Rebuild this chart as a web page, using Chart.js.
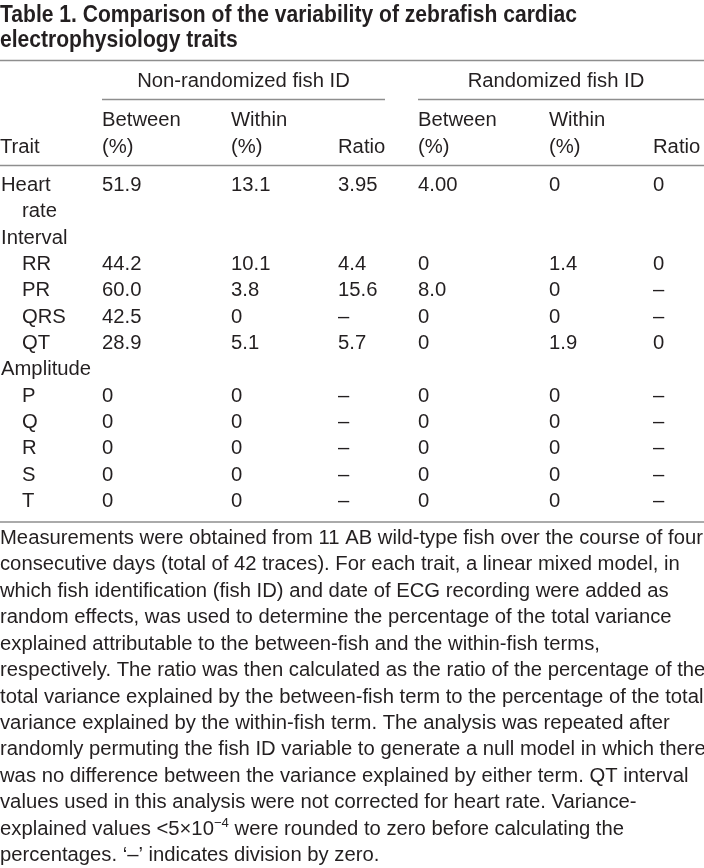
<!DOCTYPE html>
<html>
<head>
<meta charset="utf-8">
<script src="https://cdn.jsdelivr.net/npm/chart.js@4/dist/chart.umd.min.js"></script>
<style>
  html, body { margin: 0; padding: 0; background: #ffffff; }
  #wrap { width: 704px; height: 868px; }
  canvas { display: block; }
</style>
</head>
<body>
<div id="wrap"><canvas id="c" width="704" height="868"></canvas></div>
<script>
// ---------- DATA ----------
const titleLines = [
  'Table 1. Comparison of the variability of zebrafish cardiac',
  'electrophysiology traits'
];
const groupHeaders = ['Non-randomized fish ID', 'Randomized fish ID'];
const colHeadTop = ['Between', 'Within', '', 'Between', 'Within', ''];
const colHeadBottom = ['(%)', '(%)', 'Ratio', '(%)', '(%)', 'Ratio'];
const traitHeader = 'Trait';
// one entry per printed line of the table body
const traitLines = ['Heart', 'rate', 'Interval', 'RR', 'PR', 'QRS', 'QT', 'Amplitude', 'P', 'Q', 'R', 'S', 'T'];
const traitIndented = [false, true, false, true, true, true, true, false, true, true, true, true, true];
const nonRandBetween = ['51.9', '', '', '44.2', '60.0', '42.5', '28.9', '', '0', '0', '0', '0', '0'];
const nonRandWithin  = ['13.1', '', '', '10.1', '3.8', '0', '5.1', '', '0', '0', '0', '0', '0'];
const nonRandRatio   = ['3.95', '', '', '4.4', '15.6', '–', '5.7', '', '–', '–', '–', '–', '–'];
const randBetween    = ['4.00', '', '', '0', '8.0', '0', '0', '', '0', '0', '0', '0', '0'];
const randWithin     = ['0', '', '', '1.4', '0', '0', '1.9', '', '0', '0', '0', '0', '0'];
const randRatio      = ['0', '', '', '0', '–', '–', '0', '', '–', '–', '–', '–', '–'];
const footnoteLines = [
  'Measurements were obtained from 11 AB wild-type fish over the course of four',
  'consecutive days (total of 42 traces). For each trait, a linear mixed model, in',
  'which fish identification (fish ID) and date of ECG recording were added as',
  'random effects, was used to determine the percentage of the total variance',
  'explained attributable to the between-fish and the within-fish terms,',
  'respectively. The ratio was then calculated as the ratio of the percentage of the',
  'total variance explained by the between-fish term to the percentage of the total',
  'variance explained by the within-fish term. The analysis was repeated after',
  'randomly permuting the fish ID variable to generate a null model in which there',
  'was no difference between the variance explained by either term. QT interval',
  'values used in this analysis were not corrected for heart rate. Variance-',
  'explained values <5×10^{−4} were rounded to zero before calculating the',
  'percentages. ‘–’ indicates division by zero.'
];

// ---------- LAYOUT / STYLE ----------
const W = 704, H = 868;
const FAMILY = '"Liberation Sans", Arial, Helvetica, sans-serif';
const BODY_PX = 20, TITLE_PX = 24, SUP_PX = 13;
const TEXT_COLOR = '#231f20';
const RULE_COLOR = '#8e8e8e';
const colX = [102, 231, 338, 418, 549, 653];
const groupCenters = [243.5, 556];
const indentX = 22;
const bodyFirst = 191, bodyStep = 26.33;
const footFirst = 544, footStep = 26.42;

// measure-based horizontal scale to match reference line lengths
const mctx = document.createElement('canvas').getContext('2d');
mctx.font = BODY_PX + 'px ' + FAMILY;
const SX = 703 / mctx.measureText(footnoteLines[0]).width;
mctx.font = 'bold ' + TITLE_PX + 'px ' + FAMILY;
const SX_T = 577 / mctx.measureText(titleLines[0]).width;

const bodyFont = { px: BODY_PX, weight: 'normal', sx: SX };
const titleFont = { px: TITLE_PX, weight: 'bold', sx: SX_T };

function textSet(points, texts, font, align) {
  return {
    type: 'scatter', data: points, texts: texts, tfont: font, talign: align || 'left',
    pointRadius: 0, pointHoverRadius: 0, showLine: false, backgroundColor: 'rgba(0,0,0,0)', borderColor: 'rgba(0,0,0,0)'
  };
}
function rule(x0, x1, y) {
  return {
    type: 'scatter', data: [{ x: x0, y: y }, { x: x1, y: y }], showLine: true,
    borderColor: RULE_COLOR, borderWidth: 1.6, pointRadius: 0, pointHoverRadius: 0, fill: false
  };
}

const datasets = [];
// title
datasets.push(textSet(titleLines.map((t, i) => ({ x: 0, y: 22 + i * 24.5 })), titleLines, titleFont));
// group headers
datasets.push(textSet(groupHeaders.map((t, i) => ({ x: groupCenters[i], y: 87 })), groupHeaders, bodyFont, 'center'));
// column headers
datasets.push(textSet(colHeadTop.map((t, i) => ({ x: colX[i], y: 125.5 })), colHeadTop, bodyFont));
datasets.push(textSet(colHeadBottom.map((t, i) => ({ x: colX[i], y: 152.5 })), colHeadBottom, bodyFont));
datasets.push(textSet([{ x: 0, y: 152.5 }], [traitHeader], bodyFont));
// trait column
datasets.push(textSet(traitLines.map((t, i) => ({ x: traitIndented[i] ? indentX : 1, y: bodyFirst + i * bodyStep })), traitLines, bodyFont));
// value columns
[nonRandBetween, nonRandWithin, nonRandRatio, randBetween, randWithin, randRatio].forEach((col, c) => {
  datasets.push(textSet(col.map((v, i) => ({ x: colX[c], y: bodyFirst + i * bodyStep })), col, bodyFont));
});
// footnote
datasets.push(textSet(footnoteLines.map((t, i) => ({ x: 0, y: footFirst + i * footStep })), footnoteLines, bodyFont));
// rules
datasets.push(rule(0, W, 60.5));
datasets.push(rule(colX[0], 385, 99.5));
datasets.push(rule(colX[3], W, 99.5));
datasets.push(rule(0, W, 165.5));
datasets.push(rule(0, W, 522));

function drawRich(ctx, text, x, y, font, align) {
  // split superscripts of the form ^{...}
  const parts = [];
  const re = /\^\{([^}]*)\}/g;
  let last = 0, m;
  while ((m = re.exec(text)) !== null) {
    if (m.index > last) parts.push({ t: text.slice(last, m.index), sup: false });
    parts.push({ t: m[1], sup: true });
    last = re.lastIndex;
  }
  if (last < text.length) parts.push({ t: text.slice(last), sup: false });
  const fontStr = (sup) => font.weight + ' ' + (sup ? SUP_PX : font.px) + 'px ' + FAMILY;
  let total = 0;
  parts.forEach(p => { ctx.font = fontStr(p.sup); p.w = ctx.measureText(p.t).width * font.sx; total += p.w; });
  let cx = x;
  if (align === 'center') cx = x - total / 2;
  parts.forEach(p => {
    ctx.save();
    ctx.font = fontStr(p.sup);
    ctx.translate(cx, p.sup ? y - 8 : y);
    ctx.scale(font.sx, 1);
    ctx.fillText(p.t, 0, 0);
    ctx.restore();
    cx += p.w;
  });
}

const tablePlugin = {
  id: 'tableText',
  afterDatasetsDraw(chart) {
    const ctx = chart.ctx;
    ctx.save();
    ctx.fillStyle = TEXT_COLOR;
    ctx.textBaseline = 'alphabetic';
    ctx.textAlign = 'left';
    chart.data.datasets.forEach((ds, di) => {
      if (!ds.texts) return;
      const meta = chart.getDatasetMeta(di);
      meta.data.forEach((el, i) => {
        const t = ds.texts[i];
        if (!t) return;
        drawRich(ctx, t, el.x, el.y, ds.tfont, ds.talign);
      });
    });
    ctx.restore();
  }
};

new Chart(document.getElementById('c'), {
  type: 'scatter',
  data: { datasets: datasets },
  options: {
    responsive: false,
    devicePixelRatio: 1,
    animation: false,
    events: [],
    layout: { padding: 0 },
    plugins: { legend: { display: false }, tooltip: { enabled: false }, title: { display: false } },
    scales: {
      x: { type: 'linear', min: 0, max: W, display: false },
      y: { type: 'linear', min: 0, max: H, reverse: true, display: false }
    },
    elements: { line: { tension: 0 } }
  },
  plugins: [tablePlugin]
});
</script>
</body>
</html>
